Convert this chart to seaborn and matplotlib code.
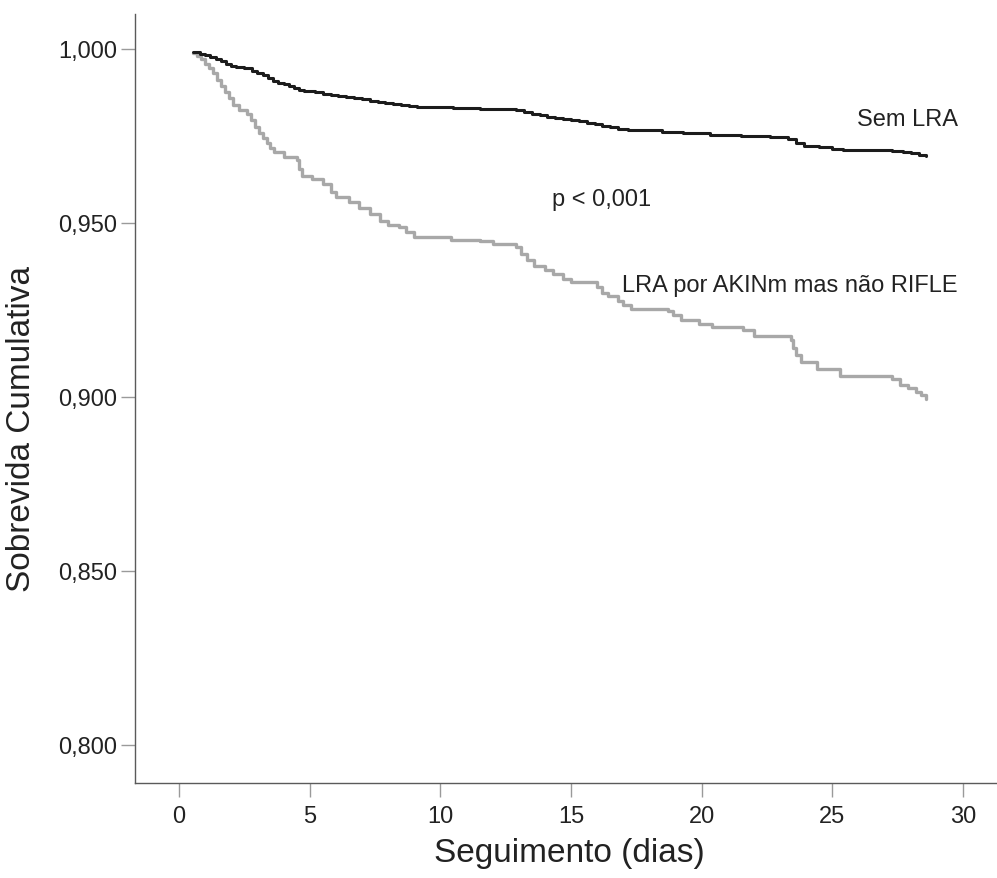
import matplotlib
matplotlib.use("Agg")
import matplotlib.pyplot as plt
from matplotlib.ticker import FuncFormatter, FixedLocator
import seaborn as sns
import pandas as pd

# ---- data ----
sem_lra_t = [0.55, 0.8, 1.0, 1.2, 1.4, 1.6, 1.8, 2.0, 2.2, 2.5, 2.8, 3.0, 3.2, 3.4, 3.6,
             3.8, 4.0, 4.2, 4.4, 4.6, 4.8, 5.2, 5.5, 5.8, 6.1, 6.4, 6.7, 7.0, 7.3, 7.6,
             7.9, 8.2, 8.5, 8.8, 9.1, 10.5, 11.5, 12.9, 13.2, 13.5, 13.8, 14.1, 14.4,
             14.7, 15.0, 15.3, 15.6, 15.9, 16.2, 16.5, 16.8, 17.2, 18.5, 19.3, 20.3,
             21.5, 22.6, 23.3, 23.6, 23.9, 24.5, 25.0, 25.4, 27.3, 27.7, 28.0, 28.3, 28.6]
sem_lra_s = [0.9990, 0.9987, 0.9983, 0.9978, 0.9972, 0.9965, 0.9958, 0.9952, 0.9949,
             0.9945, 0.9938, 0.9930, 0.9924, 0.9916, 0.9909, 0.9903, 0.9898, 0.9893,
             0.9889, 0.9883, 0.9879, 0.9876, 0.9872, 0.9869, 0.9866, 0.9862, 0.9859,
             0.9856, 0.9852, 0.9848, 0.9845, 0.9843, 0.9840, 0.9837, 0.9833, 0.9831,
             0.9829, 0.9825, 0.9819, 0.9814, 0.9809, 0.9805, 0.9801, 0.9799, 0.9796,
             0.9792, 0.9788, 0.9784, 0.9780, 0.9775, 0.9770, 0.9766, 0.9762, 0.9758,
             0.9754, 0.9750, 0.9746, 0.9741, 0.9730, 0.9722, 0.9718, 0.9714, 0.9711,
             0.9708, 0.9704, 0.9700, 0.9696, 0.9692]

akin_t = [0.55, 0.7, 0.85, 1.0, 1.15, 1.3, 1.45, 1.6, 1.75, 1.9, 2.05, 2.3, 2.6, 2.75,
          2.9, 3.05, 3.2, 3.35, 3.5, 3.65, 4.0, 4.5, 4.6, 4.7, 5.1, 5.5, 5.8, 6.0, 6.5,
          6.9, 7.3, 7.7, 8.0, 8.4, 8.7, 9.0, 10.4, 11.5, 12.0, 12.9, 13.1, 13.3, 13.6,
          14.0, 14.3, 14.7, 15.0, 16.0, 16.2, 16.4, 16.8, 17.0, 17.3, 18.7, 18.9, 19.2,
          19.9, 20.4, 21.6, 22.0, 23.4, 23.5, 23.6, 23.8, 24.4, 25.3, 27.3, 27.6, 27.9,
          28.2, 28.4, 28.6]
akin_s = [0.9988, 0.9980, 0.9970, 0.9958, 0.9945, 0.9930, 0.9912, 0.9893, 0.9875,
          0.9858, 0.9840, 0.9826, 0.9812, 0.9795, 0.9775, 0.9758, 0.9745, 0.9730, 0.9715,
          0.9703, 0.9690, 0.9680, 0.9655, 0.9636, 0.9625, 0.9612, 0.9590, 0.9575, 0.9560,
          0.9542, 0.9525, 0.9507, 0.9495, 0.9488, 0.9475, 0.9460, 0.9451, 0.9449, 0.9440,
          0.9430, 0.9410, 0.9395, 0.9375, 0.9365, 0.9353, 0.9340, 0.9330, 0.9315, 0.9300,
          0.9291, 0.9275, 0.9265, 0.9253, 0.9248, 0.9235, 0.9220, 0.9210, 0.9200, 0.9193,
          0.9175, 0.9165, 0.9140, 0.9120, 0.9100, 0.9081, 0.9061, 0.9052, 0.9035, 0.9025,
          0.9014, 0.9005, 0.8995]

x_ticks = [0, 5, 10, 15, 20, 25, 30]
y_ticks = [0.800, 0.850, 0.900, 0.950, 1.000]

label_sem = "Sem LRA"
label_akin = "LRA por AKINm mas não RIFLE"
p_text = "p < 0,001"
x_label = "Seguimento (dias)"
y_label = "Sobrevida Cumulativa"

# ---- plotting ----
sns.set_theme(style="white")
plt.rcParams["font.family"] = ["Liberation Sans", "DejaVu Sans"]

fig = plt.figure(figsize=(9.97, 8.79), dpi=100)
ax = fig.add_axes([135 / 997, (879 - 784) / 879, (997 - 135) / 997, (784 - 15) / 879])

df_sem = pd.DataFrame({"t": sem_lra_t, "s": sem_lra_s})
df_akin = pd.DataFrame({"t": akin_t, "s": akin_s})

sns.lineplot(data=df_akin, x="t", y="s", ax=ax, color="#a8a8a8", linewidth=2.4,
             drawstyle="steps-post", estimator=None, sort=False)
sns.lineplot(data=df_sem, x="t", y="s", ax=ax, color="#1c1c1c", linewidth=2.2,
             drawstyle="steps-post", estimator=None, sort=False)

px_day = 26.13
ax.set_xlim(-44 / px_day, 30 + 34 / px_day)
ax.set_ylim(0.8 - 38 / 3480, 1.0 + 35 / 3480)

ax.xaxis.set_major_locator(FixedLocator(x_ticks))
ax.yaxis.set_major_locator(FixedLocator(y_ticks))
ax.yaxis.set_major_formatter(FuncFormatter(lambda v, p: f"{v:.3f}".replace(".", ",")))
ax.xaxis.set_major_formatter(FuncFormatter(lambda v, p: f"{int(v)}"))

for side in ["top", "right"]:
    ax.spines[side].set_visible(False)
for side in ["left", "bottom"]:
    ax.spines[side].set_color("#5a5a5a")
    ax.spines[side].set_linewidth(1.0)

ax.tick_params(axis="both", direction="out", length=10, width=1.0, color="#9a9a9a",
               labelsize=17, labelcolor="#222222", bottom=True, left=True)
ax.tick_params(axis="y", pad=3)
ax.tick_params(axis="x", pad=6)

ax.set_xlabel(x_label, fontsize=24, color="#222222")
ax.set_ylabel(y_label, fontsize=24, color="#222222")
ax.yaxis.set_label_coords(-0.114, 0.4616)
ax.xaxis.set_label_coords(0.5035, -0.070)

ax.text(29.81, 0.97816, label_sem, ha="right", va="baseline", fontsize=17, color="#222222")
ax.text(29.81, 0.93055, label_akin, ha="right", va="baseline", fontsize=17, color="#222222")
ax.text(14.27, 0.95517, p_text, ha="left", va="baseline", fontsize=17, color="#222222")

ax.grid(False)
fig.savefig("out.png", dpi=100, facecolor="white")
